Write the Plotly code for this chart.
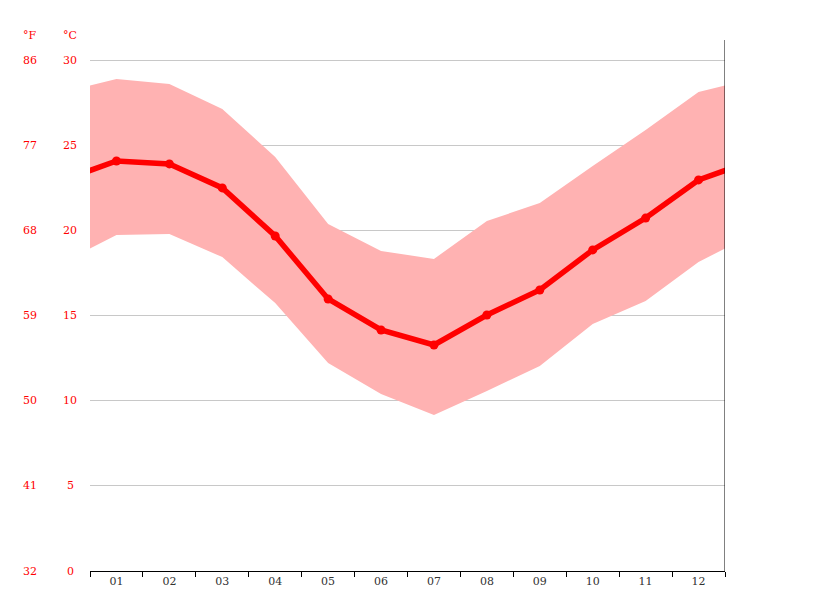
import plotly.graph_objects as go

months = ["01", "02", "03", "04", "05", "06", "07", "08", "09", "10", "11", "12"]
mean_c = [24.07, 23.9, 22.49, 19.67, 15.97, 14.15, 13.27, 15.03, 16.5, 18.85, 20.72, 22.96]
max_c = [28.89, 28.59, 27.12, 24.31, 20.37, 18.79, 18.32, 20.55, 21.6, 23.78, 25.89, 28.12]
min_c = [19.73, 19.79, 18.43, 15.73, 12.21, 10.39, 9.16, 10.57, 12.04, 14.5, 15.85, 18.14]
c_ticks = [0, 5, 10, 15, 20, 25, 30]
f_ticks = [32, 41, 50, 59, 68, 77, 86]

# wrap-around: December before January and January after December (clipped by axis range)
xs = [0] + list(range(1, 13)) + [13]
def wrap(v):
    return [v[-1]] + v + [v[0]]

FONT = "DejaVu Serif"
fig = go.Figure()
fig.add_trace(go.Scatter(x=xs, y=wrap(min_c), mode="lines", line=dict(width=0, color="rgba(0,0,0,0)"),
                         hoverinfo="skip", showlegend=False))
fig.add_trace(go.Scatter(x=xs, y=wrap(max_c), mode="lines", line=dict(width=0, color="rgba(0,0,0,0)"),
                         fill="tonexty", fillcolor="rgb(255,178,178)", hoverinfo="skip", showlegend=False))
fig.add_trace(go.Scatter(x=xs, y=wrap(mean_c), mode="lines+markers",
                         line=dict(color="#ff0000", width=5.5),
                         marker=dict(color="#ff0000", size=9), showlegend=False))

ann = []
for c, f in zip(c_ticks, f_ticks):
    ann.append(dict(x=0, xref="paper", y=c, yref="y", text=str(c), showarrow=False,
                    xanchor="center", xshift=-20, font=dict(family=FONT, size=11, color="#ff0000")))
    ann.append(dict(x=0, xref="paper", y=c, yref="y", text=str(f), showarrow=False,
                    xanchor="center", xshift=-60, font=dict(family=FONT, size=11, color="#ff0000")))
ann.append(dict(x=0, xref="paper", y=1, yref="paper", text="°C", showarrow=False, xanchor="center",
                yanchor="middle", xshift=-20, yshift=5, font=dict(family=FONT, size=11, color="#ff0000")))
ann.append(dict(x=0, xref="paper", y=1, yref="paper", text="°F", showarrow=False, xanchor="center",
                yanchor="middle", xshift=-60, yshift=5, font=dict(family=FONT, size=11, color="#ff0000")))

ymax = 30 * 531 / 511
fig.update_layout(
    width=815, height=611,
    margin=dict(l=90, r=90, t=40, b=40),
    paper_bgcolor="white", plot_bgcolor="white",
    annotations=ann,
    xaxis=dict(range=[0.5, 12.5], tickvals=list(range(1, 13)), ticktext=months, ticks="",
               showgrid=False, zeroline=False, showline=True, linecolor="black", linewidth=1,
               tickfont=dict(family=FONT, size=11, color="#333333"),
               minor=dict(tickvals=[i + 0.5 for i in range(0, 13)], ticks="outside", ticklen=5,
                          tickcolor="black", showgrid=False)),
    yaxis=dict(range=[0, ymax], tickvals=c_ticks[1:], showticklabels=False, ticks="",
               showgrid=True, gridcolor="#c8c8c8", gridwidth=1, zeroline=False, showline=False),
    shapes=[dict(type="line", xref="x", x0=12.5, x1=12.5, yref="paper", y0=0, y1=1,
                 line=dict(color="black", width=1))],
)
fig.write_html("out.html")
